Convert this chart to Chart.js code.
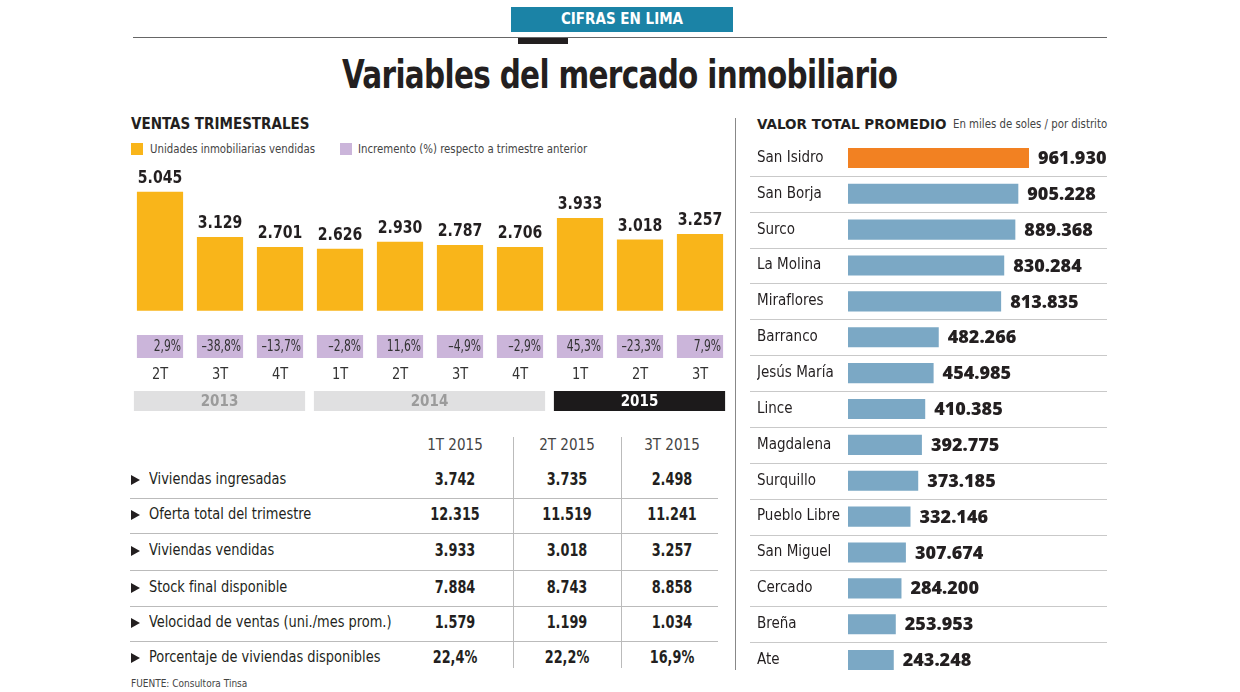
<!DOCTYPE html>
<html lang="es">
<head>
<meta charset="utf-8">
<title>Variables del mercado inmobiliario</title>
<script src="https://cdn.jsdelivr.net/npm/chart.js@4.4.1/dist/chart.umd.min.js"></script>
<style>
  html, body { margin: 0; padding: 0; background: #fff; }
  body { width: 1240px; height: 692px; position: relative; overflow: hidden;
         font-family: "DejaVu Sans Condensed", sans-serif; color: #231f20; }
  .abs { position: absolute; white-space: nowrap; }
  .nx { display: inline-block; transform-origin: left center; }
  #tag { left: 511px; top: 7px; width: 222px; height: 25px; background: #1b83a6; color: #fff;
         font: bold 15px "DejaVu Sans Condensed"; text-align: center; line-height: 25px; }
  #rule { left: 133px; top: 37px; width: 974px; height: 1px; background: #666; }
  #tab { left: 518px; top: 38px; width: 50px; height: 6px; background: #231f20; }
  #title { left: 0; width: 1240px; top: 52px; text-align: center; font: bold 39px "DejaVu Sans Condensed";
           letter-spacing: -0.8px; transform: scaleX(0.84); transform-origin: 618px 0; }
  .head { font: bold 15px "DejaVu Sans Condensed"; }
  .legend { font-size: 13px; color: #444; }
  .sw { width: 12px; height: 12px; }
  #vsep { left: 735px; top: 118px; width: 1px; height: 552px; background: #888; }
  #fuente { left: 131px; top: 678px; font-size: 10px; color: #444; }
  #tabla div { position: absolute; white-space: nowrap; }
  .tcol { width: 90px; text-align: center; font-size: 15px; }
  .tval { font-weight: bold; font-size: 17px; transform: scaleX(0.84); }
</style>
</head>
<body>
<div id="tag" class="abs">CIFRAS EN LIMA</div>
<div id="rule" class="abs"></div>
<div id="tab" class="abs"></div>
<div id="title" class="abs">Variables del mercado inmobiliario</div>

<div class="abs head" style="left:131px; top:115px;">VENTAS TRIMESTRALES</div>
<div class="abs sw" style="left:131px; top:143px; background:#f9b51a;"></div>
<div class="abs legend" style="left:150px; top:141px;"><span class="nx" style="transform:scaleX(0.87)">Unidades inmobiliarias vendidas</span></div>
<div class="abs sw" style="left:340px; top:143px; background:#cbb5da;"></div>
<div class="abs legend" style="left:358px; top:141px;"><span class="nx" style="transform:scaleX(0.87)">Incremento (%) respecto a trimestre anterior</span></div>

<div class="abs" style="left:120px; top:160px; width:620px; height:260px;"><canvas id="ventas"></canvas></div>

<div id="tabla" class="abs" style="left:0; top:0;"></div>
<div id="fuente" class="abs">FUENTE: Consultora Tinsa</div>

<div id="vsep" class="abs"></div>
<div class="abs" style="left:757px; top:116px; font: bold 13.5px 'DejaVu Sans';">VALOR TOTAL PROMEDIO</div>
<div class="abs legend" style="left:953px; top:116px;"><span class="nx" style="transform:scaleX(0.87)">En miles de soles / por distrito</span></div>
<div class="abs" style="left:740px; top:130px; width:380px; height:560px;"><canvas id="distritos"></canvas></div>

<script>
// ventas trimestrales
var trimestres = ['2T', '3T', '4T', '1T', '2T', '3T', '4T', '1T', '2T', '3T'];
var unidades = [5045, 3129, 2701, 2626, 2930, 2787, 2706, 3933, 3018, 3257];
var incremento = [2.9, -38.8, -13.7, -2.8, 11.6, -4.9, -2.9, 45.3, -23.3, 7.9];
var anios = ['2013', '2014', '2015'];
var trimestresPorAnio = [3, 4, 3];

// tabla 2015
var columnasTabla = ['1T 2015', '2T 2015', '3T 2015'];
var filasTabla = ['Viviendas ingresadas', 'Oferta total del trimestre', 'Viviendas vendidas',
                  'Stock final disponible', 'Velocidad de ventas (uni./mes prom.)', 'Porcentaje de viviendas disponibles'];
var ingresadas = [3742, 3735, 2498];
var ofertaTotal = [12315, 11519, 11241];
var vendidas = [3933, 3018, 3257];
var stockFinal = [7884, 8743, 8858];
var velocidad = [1579, 1199, 1034];
var porcDisponibles = [22.4, 22.2, 16.9];

// valor total promedio por distrito
var distritos = ['San Isidro', 'San Borja', 'Surco', 'La Molina', 'Miraflores', 'Barranco', 'Jesús María',
                 'Lince', 'Magdalena', 'Surquillo', 'Pueblo Libre', 'San Miguel', 'Cercado', 'Breña', 'Ate'];
var valorPromedio = [961930, 905228, 889368, 830284, 813835, 482266, 454985, 410385, 392775, 373185,
                     332146, 307674, 284200, 253953, 243248];

var COND = '"DejaVu Sans Condensed", sans-serif';

function miles(v) {
   return String(v).replace(/\B(?=(\d{3})+(?!\d))/g, '.');
}
function pct(v) {
   var s = Math.abs(v).toFixed(1).replace('.', ',') + '%';
   return v < 0 ? '–' + s : s;
}
// texto estrechado horizontalmente (la tipografia original es condensada)
function narrowText(ctx, txt, x, y, sx) {
   ctx.save();
   ctx.translate(x, y);
   ctx.scale(sx, 1);
   ctx.fillText(txt, 0, 0);
   ctx.restore();
}

// --- tabla ---
(function(){
   var html = '';
   var cx = [455, 567, 672];
   columnasTabla.forEach(function(c, j){
      html += '<div class="tcol" style="left:' + (cx[j] - 45) + 'px; top:436px; color:#444;">' + c + '</div>';
   });
   html += '<div style="left:513px; top:437px; width:1px; height:231px; background:#bbb;"></div>';
   html += '<div style="left:621px; top:437px; width:1px; height:231px; background:#bbb;"></div>';
   var valores = [ingresadas, ofertaTotal, vendidas, stockFinal, velocidad, porcDisponibles];
   var rowY = [480, 515, 551, 588, 623, 658];
   filasTabla.forEach(function(f, i){
      var y = rowY[i];
      html += '<div style="left:131px; top:' + (y - 5) + 'px; width:0; height:0; border-top:5px solid transparent; border-bottom:5px solid transparent; border-left:9px solid #231f20;"></div>';
      html += '<div style="left:149px; top:' + (y - 11) + 'px; font-size:16px;"><span class="nx" style="transform:scaleX(0.9)">' + f + '</span></div>';
      valores[i].forEach(function(v, j){
         var txt = i === 5 ? pct(v) : miles(v);
         html += '<div class="tcol tval" style="left:' + (cx[j] - 45) + 'px; top:' + (y - 11) + 'px;">' + txt + '</div>';
      });
      if (i < filasTabla.length - 1) {
         html += '<div style="left:130px; top:' + Math.round((y + rowY[i + 1]) / 2) + 'px; width:588px; height:1px; background:#bbb;"></div>';
      }
   });
   document.getElementById('tabla').innerHTML = html;
})();

// --- grafico de barras verticales ---
var ventasDecor = {
   id: 'ventasDecor',
   afterDatasetsDraw: function(chart) {
      var ctx = chart.ctx;
      var meta = chart.getDatasetMeta(0);
      var base = chart.chartArea.bottom;
      ctx.save();
      meta.data.forEach(function(bar, i){
         var w = bar.width, left = bar.x - w / 2;
         ctx.fillStyle = '#231f20';
         ctx.font = 'bold 17px ' + COND;
         ctx.textAlign = 'center';
         ctx.textBaseline = 'bottom';
         narrowText(ctx, miles(unidades[i]), bar.x, bar.y - 5, 0.92);

         ctx.fillStyle = '#cbb5da';
         ctx.fillRect(left, base + 4, w, 23);
         ctx.fillStyle = '#333';
         ctx.font = '15px ' + COND;
         ctx.textAlign = 'right';
         ctx.textBaseline = 'middle';
         narrowText(ctx, pct(incremento[i]), left + w - 2, base + 16, 0.8);

         ctx.textAlign = 'center';
         ctx.font = '16px ' + COND;
         narrowText(ctx, trimestres[i], bar.x, base + 44, 0.9);
      });
      var k = 0;
      anios.forEach(function(a, j){
         var first = meta.data[k], last = meta.data[k + trimestresPorAnio[j] - 1];
         var x0 = first.x - first.width / 2 - 3, x1 = last.x + last.width / 2 + 2;
         var dark = j === anios.length - 1;
         ctx.fillStyle = dark ? '#1c1a1b' : '#e0e0e1';
         ctx.fillRect(x0, base + 60, x1 - x0, 20);
         ctx.fillStyle = dark ? '#fff' : '#9b9b9b';
         ctx.font = 'bold 15px ' + COND;
         ctx.textAlign = 'center';
         ctx.fillText(a, (x0 + x1) / 2, base + 71);
         k += trimestresPorAnio[j];
      });
      ctx.restore();
   }
};

new Chart(document.getElementById('ventas'), {
   type: 'bar',
   data: {
      labels: trimestres,
      datasets: [{
         data: unidades,
         backgroundColor: '#f9b51a',
         barPercentage: 0.77,
         categoryPercentage: 1
      }]
   },
   options: {
      responsive: true,
      maintainAspectRatio: false,
      animation: false,
      layout: { padding: { left: 10, right: 10, top: 5, bottom: 89 } },
      plugins: { legend: { display: false }, tooltip: { enabled: false } },
      scales: {
         x: { display: false, grid: { display: false } },
         y: { display: false, min: -860, max: 6185 }
      }
   },
   plugins: [ventasDecor]
});

// --- grafico de barras horizontales ---
var distritosDecor = {
   id: 'distritosDecor',
   afterDatasetsDraw: function(chart) {
      var ctx = chart.ctx;
      var bars = chart.getDatasetMeta(0).data;
      ctx.save();
      ctx.strokeStyle = '#c9c9c9';
      ctx.lineWidth = 1;
      for (var i = 0; i < bars.length - 1; i++) {
         var y = Math.round((bars[i].y + bars[i + 1].y) / 2) + 0.5;
         ctx.beginPath();
         ctx.moveTo(10, y);
         ctx.lineTo(chart.chartArea.right, y);
         ctx.stroke();
      }
      ctx.fillStyle = '#231f20';
      ctx.font = '800 18px "Open Sans", sans-serif';
      ctx.textAlign = 'left';
      ctx.textBaseline = 'middle';
      bars.forEach(function(bar, i){
         ctx.fillText(miles(valorPromedio[i]), bar.x + 9, bar.y + 1);
      });
      ctx.restore();
   }
};

new Chart(document.getElementById('distritos'), {
   type: 'bar',
   data: {
      labels: distritos,
      datasets: [{
         data: valorPromedio,
         backgroundColor: valorPromedio.map(function(v, i){ return i === 0 ? '#f28122' : '#7ba8c5'; }),
         barPercentage: 0.56,
         categoryPercentage: 1
      }]
   },
   options: {
      indexAxis: 'y',
      responsive: true,
      maintainAspectRatio: false,
      animation: false,
      layout: { padding: { left: 17, right: 13, top: 10, bottom: 12 } },
      plugins: { legend: { display: false }, tooltip: { enabled: false } },
      scales: {
         x: { display: false, min: 0, max: 1376500 },
         y: {
            grid: { display: false },
            border: { display: false },
            ticks: { crossAlign: 'far', padding: 0, color: '#231f20', font: { size: 15, family: COND } },
            afterFit: function(scale) { scale.width = 91; }
         }
      }
   },
   plugins: [distritosDecor]
});
</script>
</body>
</html>
